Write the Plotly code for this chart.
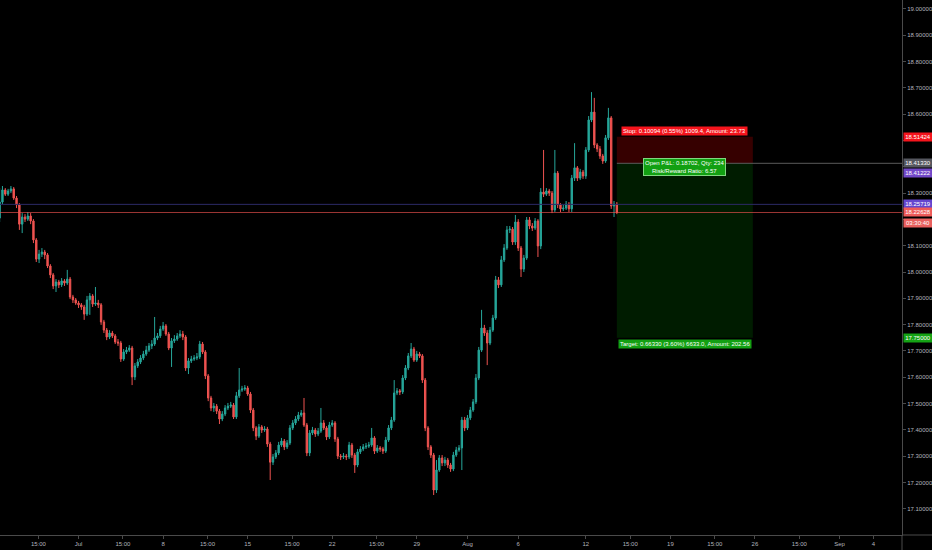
import numpy as np
import plotly.graph_objects as go
from datetime import datetime, timedelta, date

# ---------------- data ----------------
bar_start = "2019-06-24 08:00"   # first 4H bar
first_open = 18.205

closes = [
18.266, 18.312, 18.296, 18.308, 18.316, 18.281, 18.255, 18.182, 18.209, 18.201,
18.213, 18.194, 18.122, 18.049, 18.068, 18.076, 18.065, 18.023, 17.989, 17.947,
17.962, 17.951, 17.966, 17.958, 17.973, 17.905, 17.894, 17.882, 17.875, 17.867,
17.840, 17.894, 17.909, 17.878, 17.882, 17.875, 17.810, 17.779, 17.753, 17.768,
17.757, 17.734, 17.730, 17.669, 17.696, 17.703, 17.711, 17.601, 17.643, 17.658,
17.673, 17.688, 17.703, 17.719, 17.726, 17.749, 17.757, 17.783, 17.795, 17.764,
17.711, 17.738, 17.745, 17.757, 17.764, 17.753, 17.635, 17.662, 17.669, 17.673,
17.677, 17.726, 17.696, 17.605, 17.521, 17.483, 17.490, 17.471, 17.441, 17.460,
17.483, 17.490, 17.494, 17.449, 17.529, 17.551, 17.555, 17.559, 17.536, 17.475,
17.407, 17.376, 17.411, 17.399, 17.403, 17.346, 17.277, 17.297, 17.312, 17.342,
17.357, 17.335, 17.350, 17.407, 17.426, 17.441, 17.456, 17.464, 17.418, 17.312,
17.388, 17.399, 17.384, 17.395, 17.426, 17.407, 17.373, 17.418, 17.426, 17.365,
17.300, 17.297, 17.300, 17.297, 17.342, 17.304, 17.266, 17.316, 17.327, 17.335,
17.338, 17.342, 17.369, 17.319, 17.331, 17.327, 17.319, 17.361, 17.407, 17.437,
17.540, 17.548, 17.544, 17.597, 17.635, 17.681, 17.707, 17.665, 17.688, 17.681,
17.589, 17.407, 17.335, 17.304, 17.171, 17.247, 17.293, 17.274, 17.285, 17.266,
17.251, 17.304, 17.323, 17.331, 17.437, 17.407, 17.445, 17.475, 17.506, 17.597,
17.703, 17.787, 17.768, 17.730, 17.779, 17.825, 17.970, 17.951, 18.046, 18.091,
18.160, 18.163, 18.114, 18.190, 18.091, 18.011, 18.053, 18.198, 18.175, 18.167,
18.194, 18.099, 18.304, 18.296, 18.308, 18.300, 18.236, 18.376, 18.255, 18.240,
18.243, 18.258, 18.240, 18.357, 18.396, 18.357, 18.380, 18.365, 18.464, 18.578,
18.608, 18.483, 18.468, 18.441, 18.422, 18.510, 18.586, 18.251, 18.258, 18.22628,
]

highs = [
18.319, 18.327, 18.319, 18.316, 18.327, 18.323, 18.289, 18.262, 18.224, 18.220,
18.228, 18.224, 18.201, 18.129, 18.084, 18.091, 18.084, 18.072, 18.030, 17.996,
17.973, 17.970, 17.977, 17.973, 18.008, 17.981, 17.913, 17.901, 17.890, 17.882,
17.875, 17.909, 17.920, 17.916, 17.943, 17.894, 17.882, 17.818, 17.787, 17.779,
17.776, 17.764, 17.745, 17.738, 17.707, 17.715, 17.722, 17.719, 17.654, 17.669,
17.684, 17.700, 17.719, 17.730, 17.741, 17.829, 17.768, 17.795, 17.810, 17.802,
17.772, 17.749, 17.760, 17.768, 17.779, 17.776, 17.760, 17.673, 17.681, 17.684,
17.692, 17.738, 17.734, 17.703, 17.612, 17.529, 17.502, 17.498, 17.479, 17.471,
17.494, 17.502, 17.506, 17.502, 17.544, 17.635, 17.567, 17.570, 17.567, 17.544,
17.483, 17.414, 17.422, 17.418, 17.414, 17.411, 17.354, 17.308, 17.323, 17.354,
17.369, 17.365, 17.361, 17.418, 17.437, 17.452, 17.468, 17.475, 17.521, 17.426,
17.399, 17.411, 17.407, 17.407, 17.483, 17.437, 17.414, 17.430, 17.437, 17.433,
17.373, 17.308, 17.312, 17.308, 17.354, 17.350, 17.312, 17.327, 17.338, 17.346,
17.350, 17.354, 17.407, 17.376, 17.342, 17.338, 17.335, 17.373, 17.418, 17.449,
17.589, 17.559, 17.555, 17.608, 17.646, 17.692, 17.730, 17.715, 17.700, 17.696,
17.688, 17.597, 17.414, 17.342, 17.312, 17.285, 17.304, 17.304, 17.297, 17.293,
17.274, 17.316, 17.335, 17.342, 17.449, 17.449, 17.456, 17.487, 17.517, 17.612,
17.715, 17.856, 17.799, 17.779, 17.791, 17.837, 17.985, 17.981, 18.061, 18.106,
18.175, 18.175, 18.171, 18.217, 18.201, 18.099, 18.065, 18.209, 18.209, 18.186,
18.205, 18.201, 18.319, 18.464, 18.319, 18.316, 18.308, 18.464, 18.384, 18.262,
18.255, 18.270, 18.266, 18.369, 18.490, 18.403, 18.392, 18.388, 18.475, 18.593,
18.684, 18.662, 18.490, 18.479, 18.449, 18.521, 18.624, 18.593, 18.270, 18.266,
]

lows = [
18.190, 18.258, 18.289, 18.289, 18.300, 18.274, 18.243, 18.160, 18.148, 18.190,
18.194, 18.182, 18.110, 18.038, 18.034, 18.057, 18.049, 18.015, 17.977, 17.935,
17.924, 17.939, 17.943, 17.947, 17.951, 17.897, 17.882, 17.875, 17.863, 17.856,
17.818, 17.833, 17.837, 17.867, 17.871, 17.863, 17.799, 17.768, 17.741, 17.745,
17.749, 17.726, 17.719, 17.658, 17.662, 17.688, 17.696, 17.570, 17.589, 17.635,
17.650, 17.665, 17.681, 17.696, 17.707, 17.719, 17.741, 17.749, 17.776, 17.757,
17.703, 17.639, 17.730, 17.738, 17.749, 17.741, 17.624, 17.612, 17.654, 17.662,
17.665, 17.669, 17.688, 17.593, 17.509, 17.471, 17.468, 17.460, 17.422, 17.433,
17.452, 17.475, 17.483, 17.441, 17.441, 17.521, 17.544, 17.548, 17.529, 17.464,
17.395, 17.361, 17.369, 17.388, 17.392, 17.335, 17.209, 17.266, 17.289, 17.304,
17.335, 17.323, 17.327, 17.342, 17.399, 17.418, 17.433, 17.449, 17.411, 17.300,
17.300, 17.380, 17.373, 17.376, 17.388, 17.399, 17.361, 17.365, 17.411, 17.354,
17.289, 17.285, 17.289, 17.285, 17.289, 17.293, 17.236, 17.258, 17.308, 17.319,
17.327, 17.331, 17.335, 17.308, 17.312, 17.316, 17.308, 17.312, 17.354, 17.399,
17.430, 17.532, 17.532, 17.536, 17.589, 17.627, 17.673, 17.658, 17.658, 17.673,
17.578, 17.395, 17.323, 17.293, 17.152, 17.160, 17.240, 17.262, 17.262, 17.255,
17.240, 17.243, 17.297, 17.316, 17.247, 17.395, 17.399, 17.437, 17.468, 17.498,
17.589, 17.696, 17.757, 17.646, 17.722, 17.772, 17.818, 17.939, 17.943, 18.038,
18.084, 18.148, 18.103, 18.103, 18.080, 17.981, 18.000, 18.046, 18.163, 18.156,
18.160, 18.057, 18.087, 18.285, 18.289, 18.289, 18.224, 18.228, 18.243, 18.228,
18.232, 18.236, 18.228, 18.228, 18.346, 18.346, 18.350, 18.354, 18.354, 18.456,
18.570, 18.471, 18.456, 18.430, 18.411, 18.415, 18.502, 18.240, 18.209, 18.220,
]

price_ticks = [17.1, 17.2, 17.3, 17.4, 17.5, 17.6, 17.7, 17.8, 17.9, 18.0,
               18.1, 18.2, 18.3, 18.4, 18.5, 18.6, 18.7, 18.8, 18.9, 19.0]
# ticks whose text is hidden behind the price labels on the scale
covered_ticks = [18.2, 18.4, 18.5]

tick_dates = ["2019-06-26 15:00", "2019-07-01 00:00", "2019-07-03 15:00", "2019-07-08 00:00",
              "2019-07-10 15:00", "2019-07-15 00:00", "2019-07-17 15:00", "2019-07-22 00:00",
              "2019-07-24 15:00", "2019-07-29 00:00", "2019-08-01 00:00", "2019-08-06 00:00",
              "2019-08-12 00:00", "2019-08-14 15:00", "2019-08-19 00:00", "2019-08-21 15:00",
              "2019-08-26 00:00", "2019-08-28 15:00", "2019-09-02 00:00", "2019-09-04 00:00"]
tick_labels = ["15:00", "Jul", "15:00", "8", "15:00", "15", "15:00", "22", "15:00", "29",
               "Aug", "6", "12", "15:00", "19", "15:00", "26", "15:00", "Sep", "4"]

# position (short) tool
entry_price = 18.41330
stop_price = 18.51424
target_price = 17.75000
position_end = "2019-08-23 21:00"
stop_text = "Stop: 0.10094 (0.55%) 1009.4, Amount: 23.73"
target_text = "Target: 0.66330 (3.60%) 6633.0, Amount: 202.56"
pnl_text = "Open P&amp;L: 0.18702, Qty: 234<br>Risk/Reward Ratio: 6.57"

# right-axis price labels: price, text, background, vertical nudge (px)
axis_labels = [
    (18.51424, "18.51424", "#f5141c", 0),
    (18.41330, "18.41330", "#55575f", 0),
    (18.41222, "18.41222", "#7248c8", -9),
    (18.25719, "18.25719", "#6446cf", 0),
    (18.22628, "18.22628", "#ee5b5a", 0),
    (18.22628, "03:30:40", "#e9605e", -11),
    (17.75000, "17.75000", "#15a315", 0),
]
last_price = 18.22628
bid_line = 18.25719

# ---------------- helpers ----------------
ORIGIN = date(2019, 6, 24)


def trading_day(ts):
    dt = datetime.strptime(ts, "%Y-%m-%d %H:%M") if isinstance(ts, str) else ts
    d = int(np.busday_count(ORIGIN, dt.date()))
    return d + (dt.hour + dt.minute / 60.0) / 24.0


times = []
t = datetime.strptime(bar_start, "%Y-%m-%d %H:%M")
while len(times) < len(closes):
    if t.weekday() < 5:
        times.append(t)
    t += timedelta(hours=4)
xs = [trading_day(tt) for tt in times]
opens = [first_open] + closes[:-1]

X_RANGE = [0.355, 53.696]
Y_RANGE = [17.0, 19.0342]
FONT = "Liberation Sans Narrow, Liberation Sans, Arial, sans-serif"
FS = 6
AXIS_C = "#4a4a4a"
TXT_C = "#b2b5be"

fig = go.Figure()
fig.add_trace(go.Candlestick(
    x=xs, open=opens, high=highs, low=lows, close=closes,
    increasing=dict(line=dict(color="#26a69a", width=1), fillcolor="#26a69a"),
    decreasing=dict(line=dict(color="#ef5350", width=1), fillcolor="#ef5350"),
    whiskerwidth=0, hoverinfo="skip", showlegend=False,
))

box_x0 = xs[-1]
box_x1 = trading_day(position_end)
box_xc = (box_x0 + box_x1) / 2

shapes = [
    dict(type="rect", xref="x", yref="y", x0=box_x0, x1=box_x1, y0=entry_price, y1=stop_price,
         fillcolor="rgba(255,0,0,0.21)", line=dict(width=0), layer="below"),
    dict(type="rect", xref="x", yref="y", x0=box_x0, x1=box_x1, y0=target_price, y1=entry_price,
         fillcolor="rgba(0,190,0,0.15)", line=dict(width=0), layer="below"),
    dict(type="line", xref="x", yref="y", x0=box_x0, x1=X_RANGE[1], y0=entry_price, y1=entry_price,
         line=dict(color="#5a5a5a", width=1)),
    dict(type="line", xref="paper", yref="y", x0=0, x1=1, y0=bid_line, y1=bid_line,
         line=dict(color="#2c2a66", width=1)),
    dict(type="line", xref="paper", yref="y", x0=0, x1=1, y0=last_price, y1=last_price,
         line=dict(color="rgba(239,83,80,0.65)", width=1)),
    # axis line extensions into the corner
    dict(type="line", xref="paper", yref="paper", x0=1, x1=932 / 902, y0=0, y1=0,
         line=dict(color=AXIS_C, width=1)),
    dict(type="line", xref="paper", yref="paper", x0=1, x1=1, y0=-15 / 535, y1=0,
         line=dict(color=AXIS_C, width=1)),
]

annotations = []
annotations.append(dict(xref="x", yref="y", x=box_xc, y=stop_price, yanchor="bottom", yshift=1,
                        text=stop_text, showarrow=False, bgcolor="#f5141c",
                        font=dict(family=FONT, size=FS, color="#ffffff"), borderpad=1))
annotations.append(dict(xref="x", yref="y", x=box_xc, y=target_price, yanchor="top", yshift=-1,
                        text=target_text, showarrow=False, bgcolor="#12a012",
                        font=dict(family=FONT, size=FS, color="#ffffff"), borderpad=1))
annotations.append(dict(xref="x", yref="y", x=box_xc, y=entry_price, yanchor="top", yshift=5,
                        text=pnl_text, showarrow=False, bgcolor="#12a012",
                        bordercolor="#7fd77f", borderwidth=1, borderpad=1,
                        font=dict(family=FONT, size=FS, color="#ffffff")))
for price, txt, col, nudge in axis_labels:
    annotations.append(dict(xref="paper", yref="y", x=1, y=price, xanchor="left", xshift=1,
                            yshift=nudge, text=txt, showarrow=False, bgcolor=col,
                            width=28, height=8, borderpad=0, align="center",
                            font=dict(family=FONT, size=FS, color="#ffffff")))

fig.update_layout(
    width=932, height=550,
    margin=dict(l=0, r=30, t=0, b=15, autoexpand=False),
    paper_bgcolor="#000000", plot_bgcolor="#000000",
    font=dict(family=FONT, size=FS, color=TXT_C),
    showlegend=False,
    shapes=shapes, annotations=annotations,
    xaxis=dict(range=X_RANGE, tickmode="array",
               tickvals=[trading_day(d) for d in tick_dates], ticktext=tick_labels,
               showgrid=False, zeroline=False, showline=True, linecolor=AXIS_C,
               ticks="outside", ticklen=3, tickcolor=AXIS_C,
               tickfont=dict(family=FONT, size=FS, color=TXT_C),
               rangeslider=dict(visible=False), fixedrange=True, automargin=False),
    yaxis=dict(range=Y_RANGE, side="right", tickmode="array", tickvals=price_ticks,
               ticktext=["" if p in covered_ticks else f"{p:.5f}" for p in price_ticks],
               showgrid=False, zeroline=False, showline=True, linecolor=AXIS_C,
               ticks="outside", ticklen=3, tickcolor=AXIS_C,
               tickfont=dict(family=FONT, size=FS, color=TXT_C), fixedrange=True,
               automargin=False),
)

fig.write_html(
    "out.html",
    config={"displayModeBar": False},
    post_script="document.body.style.margin='0';document.body.style.background='#000';",
)
